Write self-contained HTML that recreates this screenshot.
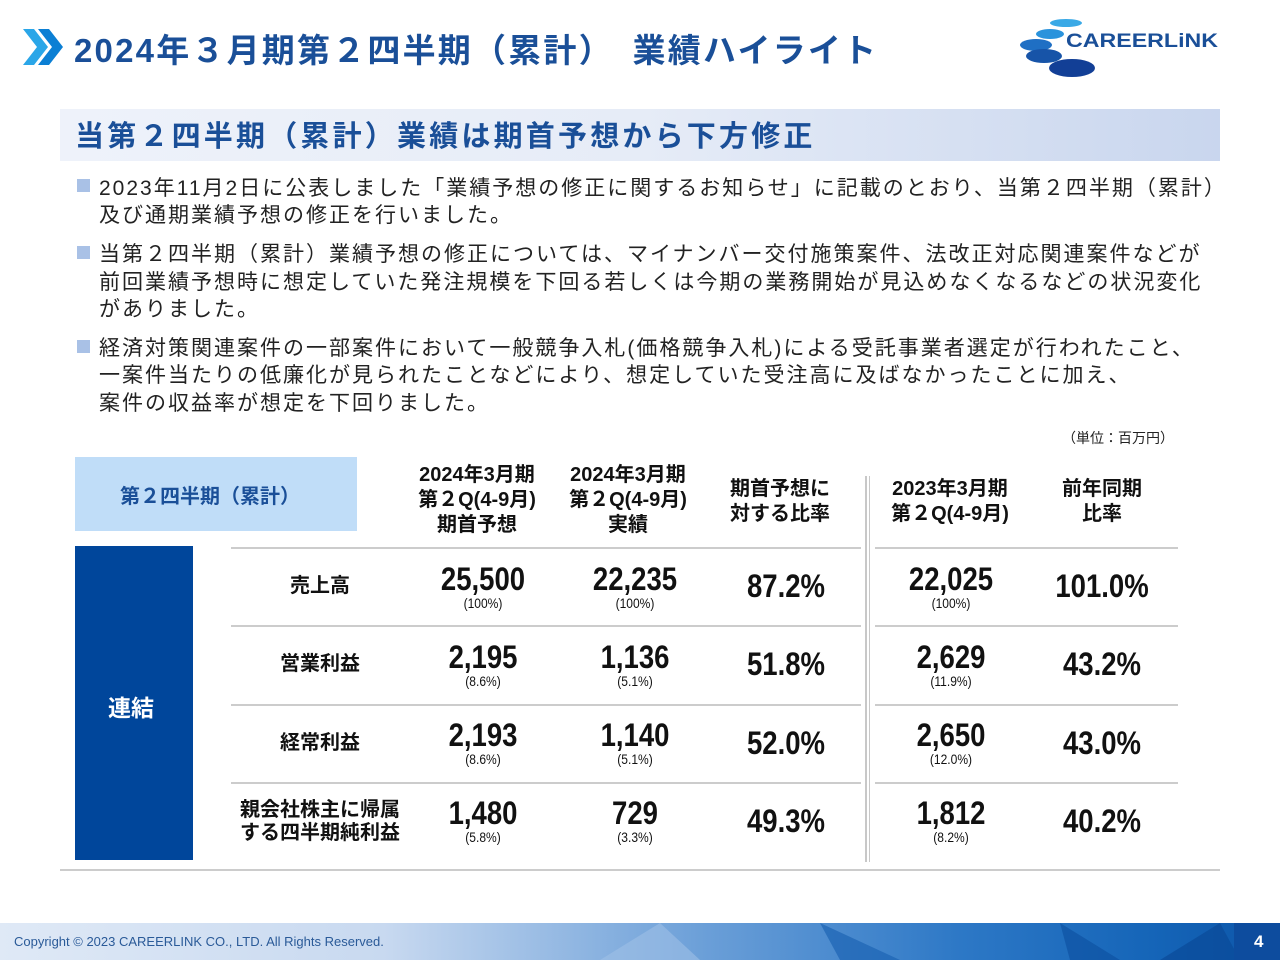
<!DOCTYPE html>
<html><head><meta charset="utf-8"><style>
*{margin:0;padding:0;box-sizing:border-box}
body{width:1280px;height:960px;position:relative;background:#fff;font-family:"Liberation Sans","Noto Sans CJK JP",sans-serif;overflow:hidden}
.a{position:absolute;white-space:nowrap}
.title{left:74px;top:24px;font-size:33px;font-weight:bold;color:#1a4f98;letter-spacing:2.2px}
.band{left:60px;top:109px;width:1160px;height:52px;background:linear-gradient(90deg,#eef2fa 0%,#e6ecf7 50%,#c9d6ee 100%)}
.sub{left:75px;top:113px;font-size:29px;font-weight:bold;color:#1a4f98;letter-spacing:3.2px}
.bl{font-size:21px;color:#222;letter-spacing:2px;left:99px}
.sq{position:absolute;left:77px;width:13px;height:13px;background:#a9c1e6}
.hd{font-size:20px;font-weight:bold;color:#111;text-align:center;line-height:25px;transform:translateX(-50%)}
.lab{font-size:20px;font-weight:bold;color:#111;text-align:center;transform:translateX(-50%);line-height:23px}
.num{font-size:32px;font-weight:bold;color:#111;transform:translateX(-50%) scaleX(0.86);text-align:center;line-height:32px}
.num small{display:block;font-size:14px;font-weight:normal;line-height:16px}
.pct{font-size:32px;font-weight:bold;color:#111;transform:translateX(-50%) scaleX(0.86)}
.hl{position:absolute;height:2px;background:#ccc}
</style></head><body>
<svg class="a" style="left:20px;top:25px" width="46" height="44"><path d="M3 4 L14 4 L28 22 L14 40 L3 40 L17 22Z" fill="#2aa6e8"/><path d="M18 4 L29 4 L43 22 L29 40 L18 40 L32 22Z" fill="#0b7fd4"/></svg>
<div class="a title">2024年３月期第２四半期（累計）　業績ハイライト</div>
<svg class="a" style="left:1010px;top:14px" width="220" height="66">
<ellipse cx="56" cy="9" rx="16" ry="4" fill="#3aa9e6"/><ellipse cx="40" cy="20" rx="14" ry="5" fill="#2a93dc"/><ellipse cx="26" cy="31" rx="16" ry="6" fill="#1f6fc4"/><ellipse cx="34" cy="42" rx="18" ry="7" fill="#1754a8"/><ellipse cx="62" cy="54" rx="23" ry="9" fill="#123f96"/>
<text x="56" y="33" font-family="Liberation Sans" font-weight="bold" font-size="19" fill="#1a4f98" textLength="152" lengthAdjust="spacingAndGlyphs">CAREERLiNK</text></svg>
<div class="a band"></div>
<div class="a sub">当第２四半期（累計）業績は期首予想から下方修正</div>
<div class="sq" style="top:179px"></div><div class="sq" style="top:246px"></div><div class="sq" style="top:340px"></div>
<div class="a bl" style="top:172px">2023年11月2日に公表しました「業績予想の修正に関するお知らせ」に記載のとおり、当第２四半期（累計）</div>
<div class="a bl" style="top:199px">及び通期業績予想の修正を行いました。</div>
<div class="a bl" style="top:238px">当第２四半期（累計）業績予想の修正については、マイナンバー交付施策案件、法改正対応関連案件などが</div>
<div class="a bl" style="top:266px">前回業績予想時に想定していた発注規模を下回る若しくは今期の業務開始が見込めなくなるなどの状況変化</div>
<div class="a bl" style="top:293px">がありました。</div>
<div class="a bl" style="top:332px">経済対策関連案件の一部案件において一般競争入札(価格競争入札)による受託事業者選定が行われたこと、</div>
<div class="a bl" style="top:359px">一案件当たりの低廉化が見られたことなどにより、想定していた受注高に及ばなかったことに加え、</div>
<div class="a bl" style="top:387px">案件の収益率が想定を下回りました。</div>
<div class="a" style="left:1062px;top:428px;font-size:14px;color:#222">（単位：百万円）</div>
<div class="a" style="left:75px;top:457px;width:282px;height:74px;background:#c0ddf8"></div>
<div class="a" style="left:120px;top:480px;font-size:20px;font-weight:bold;color:#1a4f98">第２四半期（累計）</div>
<div class="a" style="left:75px;top:546px;width:118px;height:314px;background:#00469b"></div>
<div class="a" style="left:108px;top:689px;font-size:23px;font-weight:bold;color:#fff">連結</div>
<div class="a hd" style="left:477px;top:463px">2024年3月期<br>第２Q(4-9月)<br>期首予想</div>
<div class="a hd" style="left:628px;top:463px">2024年3月期<br>第２Q(4-9月)<br>実績</div>
<div class="a hd" style="left:780px;top:477px">期首予想に<br>対する比率</div>
<div class="a hd" style="left:950px;top:477px">2023年3月期<br>第２Q(4-9月)</div>
<div class="a hd" style="left:1102px;top:477px">前年同期<br>比率</div>
<div class="a" style="left:865px;top:476px;width:1.5px;height:386px;background:#c8c8c8"></div>
<div class="a" style="left:868.5px;top:476px;width:1.5px;height:386px;background:#c8c8c8"></div>
<div class="hl" style="left:231px;top:547px;width:630px"></div><div class="hl" style="left:875px;top:547px;width:303px"></div>
<div class="hl" style="left:231px;top:625px;width:630px"></div><div class="hl" style="left:875px;top:625px;width:303px"></div>
<div class="hl" style="left:231px;top:704px;width:630px"></div><div class="hl" style="left:875px;top:704px;width:303px"></div>
<div class="hl" style="left:231px;top:782px;width:630px"></div><div class="hl" style="left:875px;top:782px;width:303px"></div>
<div class="hl" style="left:60px;top:869px;width:1160px;height:1.5px"></div>

<div class="a lab" style="left:320px;top:575px">売上高</div>
<div class="a num" style="left:483px;top:563px">25,500<small>(100%)</small></div>
<div class="a num" style="left:635px;top:563px">22,235<small>(100%)</small></div>
<div class="a pct" style="left:786px;top:568px">87.2%</div>
<div class="a num" style="left:951px;top:563px">22,025<small>(100%)</small></div>
<div class="a pct" style="left:1102px;top:568px">101.0%</div>

<div class="a lab" style="left:320px;top:653px">営業利益</div>
<div class="a num" style="left:483px;top:641px">2,195<small>(8.6%)</small></div>
<div class="a num" style="left:635px;top:641px">1,136<small>(5.1%)</small></div>
<div class="a pct" style="left:786px;top:646px">51.8%</div>
<div class="a num" style="left:951px;top:641px">2,629<small>(11.9%)</small></div>
<div class="a pct" style="left:1102px;top:646px">43.2%</div>

<div class="a lab" style="left:320px;top:732px">経常利益</div>
<div class="a num" style="left:483px;top:719px">2,193<small>(8.6%)</small></div>
<div class="a num" style="left:635px;top:719px">1,140<small>(5.1%)</small></div>
<div class="a pct" style="left:786px;top:725px">52.0%</div>
<div class="a num" style="left:951px;top:719px">2,650<small>(12.0%)</small></div>
<div class="a pct" style="left:1102px;top:725px">43.0%</div>

<div class="a lab" style="left:320px;top:799px;text-align:left">親会社株主に帰属<br>する四半期純利益</div>
<div class="a num" style="left:483px;top:797px">1,480<small>(5.8%)</small></div>
<div class="a num" style="left:635px;top:797px">729<small>(3.3%)</small></div>
<div class="a pct" style="left:786px;top:803px">49.3%</div>
<div class="a num" style="left:951px;top:797px">1,812<small>(8.2%)</small></div>
<div class="a pct" style="left:1102px;top:803px">40.2%</div>

<div class="a" style="left:0;top:923px;width:1280px;height:37px;background:linear-gradient(90deg,#dfe9f6 0%,#c8d9f0 30%,#6b9fd8 55%,#2d78c6 75%,#1565b8 90%,#0d55a8 100%)"></div>
<svg class="a" style="left:600px;top:923px" width="640" height="37"><polygon points="0,37 60,0 100,37" fill="#9fbfe6" opacity=".6"/><polygon points="220,0 300,37 240,37" fill="#1c64b4" opacity=".7"/><polygon points="460,0 520,37 470,37" fill="#0b4f9e" opacity=".6"/><polygon points="560,37 620,0 640,37" fill="#0a4a99" opacity=".7"/></svg>
<div class="a" style="left:1234px;top:923px;width:46px;height:37px;background:#0d4c9e"></div>
<div class="a" style="left:14px;top:934px;font-size:13px;color:#2a5a98">Copyright © 2023 CAREERLINK CO., LTD. All Rights Reserved.</div>
<div class="a" style="left:1254px;top:932px;font-size:17px;font-weight:bold;color:#fff">4</div>
</body></html>
